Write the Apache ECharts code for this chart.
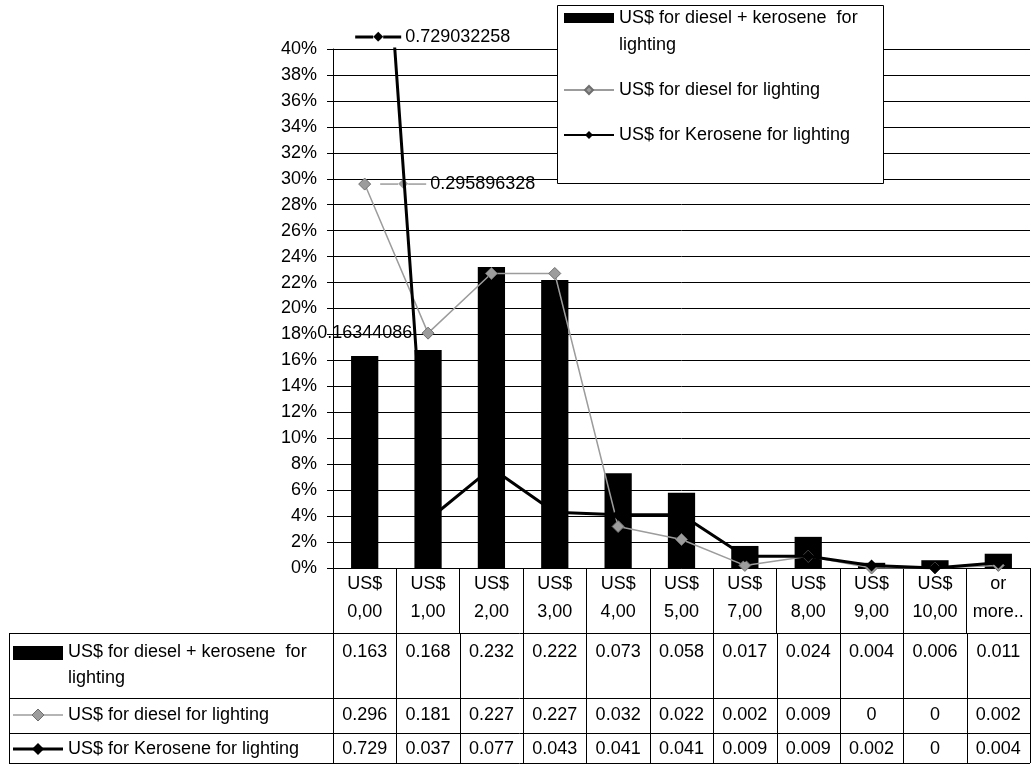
<!DOCTYPE html>
<html>
<head>
<meta charset="utf-8">
<script src="https://cdn.jsdelivr.net/npm/echarts@6/dist/echarts.min.js"></script>
<style>
  html, body { margin: 0; padding: 0; background: #fff; }
  #chart { width: 1032px; height: 766px; }
</style>
</head>
<body>
<div id="chart"></div>
<script>
// ---- data ----
const categories = ['US$ 0,00', 'US$ 1,00', 'US$ 2,00', 'US$ 3,00', 'US$ 4,00', 'US$ 5,00',
                    'US$ 7,00', 'US$ 8,00', 'US$ 9,00', 'US$ 10,00', 'or more..'];
const seriesNames = ['US$ for diesel + kerosene  for lighting',
                     'US$ for diesel for lighting',
                     'US$ for Kerosene for lighting'];
const dieselKerosene = [0.16344086, 0.168, 0.232, 0.222, 0.073, 0.058, 0.017, 0.024, 0.004, 0.006, 0.011];
const diesel         = [0.295896328, 0.181, 0.227, 0.227, 0.032, 0.022, 0.002, 0.009, 0, 0, 0.002];
const kerosene       = [0.729032258, 0.037, 0.077, 0.043, 0.041, 0.041, 0.009, 0.009, 0.002, 0, 0.004];
const yMin = 0, yMax = 0.4, yStep = 0.02;

// ---- styling ----
const FONT = '"Liberation Sans", Arial, sans-serif';
const FS = 18;
const LH = 27;
const GREY = '#9c9c9c';
const GREY_EDGE = '#6e6e6e';

function wrapName(name, maxChars) {
  const words = name.split(' ');
  const lines = [];
  let cur = '';
  words.forEach((w, i) => {
    const next = i === 0 ? w : cur + ' ' + w;
    if (next.length > maxChars && cur.length) { lines.push(cur); cur = w; }
    else cur = next;
  });
  lines.push(cur);
  return lines;
}
function cellText(v) { return v === 0 ? '0' : v.toFixed(3); }

// legend text: a wrapped name keeps its key beside the first line,
// so the block gets a blank line on top to keep that line centred on the key
function legendText(name) {
  const lines = wrapName(name, 30);
  return lines.length > 1 ? '\n' + lines.join('\n') : lines[0];
}

// label with a small legend key (line + diamond) in front of the value
function keyedLabel(color, lineH) {
  return {
    show: true,
    formatter: p => '{ln|}{dm|◆}{ln|}{v|' + (p.value !== undefined ? p.value : p.data.value) + '}',
    rich: {
      ln: { width: 18, height: lineH, backgroundColor: color },
      dm: { fontFamily: 'DejaVu Sans', fontSize: 13, color: color },
      v: { fontFamily: FONT, fontSize: FS, color: '#000', padding: [0, 0, 0, 4] }
    }
  };
}

const chart = echarts.init(document.getElementById('chart'), null, { renderer: 'canvas' });

const barData = dieselKerosene.map((v, i) => i === 0 ? {
  value: v,
  label: { show: true, position: 'top', distance: 14, fontFamily: FONT, fontSize: FS, color: '#000', formatter: '{c}' }
} : v);

const dieselData = diesel.map((v, i) => i === 0 ? {
  value: v,
  label: Object.assign(keyedLabel(GREY, 1.5), { position: 'right', distance: 9 })
} : v);

// legend frame box
const LEGEND_BOX = { x: 557, y: 5, w: 326, h: 178 };

const option = {
  animation: false,
  backgroundColor: '#fff',
  textStyle: { fontFamily: FONT },
  grid: { left: 333, right: 2, top: 49, bottom: 198, containLabel: false },
  legend: {
    orient: 'vertical',
    left: LEGEND_BOX.x + 6,
    top: LEGEND_BOX.y + 13 - 1.5 * LH,
    z: 6,
    padding: 0,
    itemWidth: 50,
    itemHeight: 10,
    itemGap: 18,
    selectedMode: false,
    formatter: legendText,
    textStyle: { fontFamily: FONT, fontSize: FS, lineHeight: LH, color: '#000' },
    data: [
      { name: seriesNames[0], icon: 'rect' },
      { name: seriesNames[1] },
      { name: seriesNames[2] }
    ]
  },
  xAxis: {
    type: 'category',
    data: categories,
    boundaryGap: true,
    axisLine: { show: true, lineStyle: { color: '#000', width: 1 } },
    axisTick: { show: true, length: 65, interval: 0, lineStyle: { color: '#000', width: 1 } },
    axisLabel: {
      interval: 0, margin: 2, color: '#000', fontFamily: FONT, fontSize: FS, lineHeight: 28,
      formatter: s => s.replace(' ', '\n')
    },
    splitLine: { show: false }
  },
  yAxis: {
    type: 'value',
    min: yMin, max: yMax, interval: yStep,
    axisLine: { show: true, lineStyle: { color: '#000', width: 1 } },
    axisTick: { show: true, length: 6, lineStyle: { color: '#000', width: 1 } },
    axisLabel: {
      margin: 16, color: '#000', fontFamily: FONT, fontSize: FS,
      formatter: v => Math.round(v * 100) + '%'
    },
    splitLine: { show: true, lineStyle: { color: '#000', width: 1 } }
  },
  series: [
    {
      name: seriesNames[0], type: 'bar', barWidth: '43%', z: 2,
      itemStyle: { color: '#000' },
      data: barData
    },
    {
      name: seriesNames[1], type: 'line', z: 3,
      symbol: 'diamond', symbolSize: 12, showAllSymbol: true,
      lineStyle: { color: GREY, width: 1.5 },
      itemStyle: { color: GREY, borderColor: GREY_EDGE, borderWidth: 1 },
      data: dieselData
    },
    {
      name: seriesNames[2], type: 'line', z: 4, clip: true,
      symbol: 'diamond', symbolSize: 12, showAllSymbol: true,
      lineStyle: { color: '#000', width: 3 },
      itemStyle: { color: '#000' },
      data: kerosene,
      // the first value lies above the axis range: show it as a keyed label on the top edge
      markPoint: {
        symbol: 'rect', symbolSize: [1, 1],
        itemStyle: { color: 'rgba(0,0,0,0)' },
        label: Object.assign(keyedLabel('#000', 3), { position: 'right', distance: 0, offset: [-10, -12] }),
        data: [{ coord: [0, yMax], value: kerosene[0] }]
      }
    }
  ]
};
chart.setOption(option);

// ---- legend frame and data table under the category axis ----
function buildTable() {
  const x0 = chart.convertToPixel({ xAxisIndex: 0 }, 0);
  const x1 = chart.convertToPixel({ xAxisIndex: 0 }, 1);
  const band = x1 - x0;
  const colLeft = x0 - band / 2;
  const colRight = colLeft + band * categories.length;
  const tableLeft = 9;
  const rowEdges = [633, 698, 733, 763];
  const rowTextY = [652, 715, 749];
  const lineStyle = { stroke: '#000', lineWidth: 1 };
  const els = [];
  const crisp = v => Math.round(v) + 0.5;

  els.push({
    type: 'rect', z: 5, silent: true,
    shape: { x: LEGEND_BOX.x + 0.5, y: LEGEND_BOX.y + 0.5, width: LEGEND_BOX.w, height: LEGEND_BOX.h },
    style: { fill: '#fff', stroke: '#000', lineWidth: 1 }
  });

  rowEdges.forEach(y => els.push({ type: 'line', shape: { x1: tableLeft, y1: crisp(y), x2: colRight, y2: crisp(y) }, style: lineStyle, silent: true }));
  els.push({ type: 'line', shape: { x1: crisp(tableLeft), y1: rowEdges[0], x2: crisp(tableLeft), y2: rowEdges[3] }, style: lineStyle, silent: true });
  for (let i = 0; i <= categories.length; i++) {
    const x = crisp(colLeft + band * i);
    els.push({ type: 'line', shape: { x1: x, y1: rowEdges[0], x2: x, y2: rowEdges[3] }, style: lineStyle, silent: true });
  }

  // row keys
  const keyL = 13, keyR = 63, keyC = (keyL + keyR) / 2;
  els.push({ type: 'rect', shape: { x: keyL, y: 646, width: keyR - keyL, height: 14 }, style: { fill: '#000' }, silent: true });
  const diamond = (cx, cy, r, fill, stroke) => ({
    type: 'polygon', shape: { points: [[cx, cy - r], [cx + r, cy], [cx, cy + r], [cx - r, cy]] },
    style: { fill: fill, stroke: stroke || null, lineWidth: 1 }, silent: true
  });
  els.push({ type: 'line', shape: { x1: keyL, y1: rowTextY[1], x2: keyR, y2: rowTextY[1] }, style: { stroke: GREY, lineWidth: 1.5 }, silent: true });
  els.push(diamond(keyC, rowTextY[1], 6, GREY, GREY_EDGE));
  els.push({ type: 'line', shape: { x1: keyL, y1: rowTextY[2], x2: keyR, y2: rowTextY[2] }, style: { stroke: '#000', lineWidth: 3 }, silent: true });
  els.push(diamond(keyC, rowTextY[2], 6, '#000'));

  // row names
  const font = FS + 'px ' + FONT;
  seriesNames.forEach((n, r) => {
    els.push({
      type: 'text', silent: true,
      style: { text: wrapName(n, 30).join('\n'), x: 68, y: rowTextY[r] - 13, font: font, fill: '#000', lineHeight: 26,
               align: 'left', verticalAlign: 'top', textAlign: 'left', textVerticalAlign: 'top' }
    });
  });

  // cell values
  [dieselKerosene, diesel, kerosene].forEach((arr, r) => {
    arr.forEach((v, i) => {
      els.push({
        type: 'text', silent: true,
        style: { text: cellText(v), x: colLeft + band * (i + 0.5), y: rowTextY[r], font: font, fill: '#000',
                 align: 'center', verticalAlign: 'middle', textAlign: 'center', textVerticalAlign: 'middle' }
      });
    });
  });
  chart.setOption({ graphic: { elements: els } });
}
buildTable();
</script>
</body>
</html>
